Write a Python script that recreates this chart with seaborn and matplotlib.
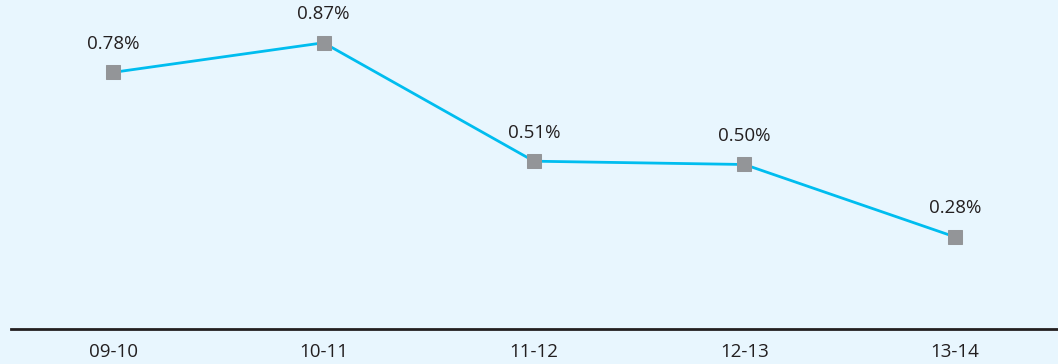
import matplotlib
matplotlib.use("Agg")
import matplotlib.pyplot as plt
import seaborn as sns
import pandas as pd

# Annual rates by financial year
years = ["09-10", "10-11", "11-12", "12-13", "13-14"]
rates = [0.78, 0.87, 0.51, 0.50, 0.28]
labels = ["0.78%", "0.87%", "0.51%", "0.50%", "0.28%"]

bg = "#E8F6FE"
line_color = "#00BDEF"
marker_color = "#939598"
text_color = "#231F20"

sns.set_theme(style="white")
plt.rcParams["font.family"] = ["Open Sans", "DejaVu Sans"]

df = pd.DataFrame({"year": years, "rate": rates})

fig = plt.figure(figsize=(10.58, 3.64), dpi=100, facecolor=bg)
ax = fig.add_axes([0.0104, 0.0962, 0.9896, 0.9038])
ax.set_facecolor(bg)

sns.lineplot(data=df, x="year", y="rate", ax=ax, color=line_color,
             linewidth=2, marker="s", markersize=10,
             markerfacecolor=marker_color, markeredgecolor=marker_color,
             zorder=3)

for i, (v, t) in enumerate(zip(rates, labels)):
    ax.annotate(t, (i, v), xytext=(0, 14), textcoords="offset points",
                ha="center", va="bottom", fontsize=13.5, color=text_color)

ax.set_xlim(-0.485, 4.49)
ax.set_ylim(0, 1.0)
ax.set_xlabel("")
ax.set_ylabel("")
ax.set_yticks([])
ax.tick_params(axis="x", length=0, pad=10, labelsize=13.5, labelcolor=text_color)
for side in ["top", "right", "left"]:
    ax.spines[side].set_visible(False)
ax.spines["bottom"].set_color(text_color)
ax.spines["bottom"].set_linewidth(2)

fig.savefig("out.png", dpi=100, facecolor=bg)
